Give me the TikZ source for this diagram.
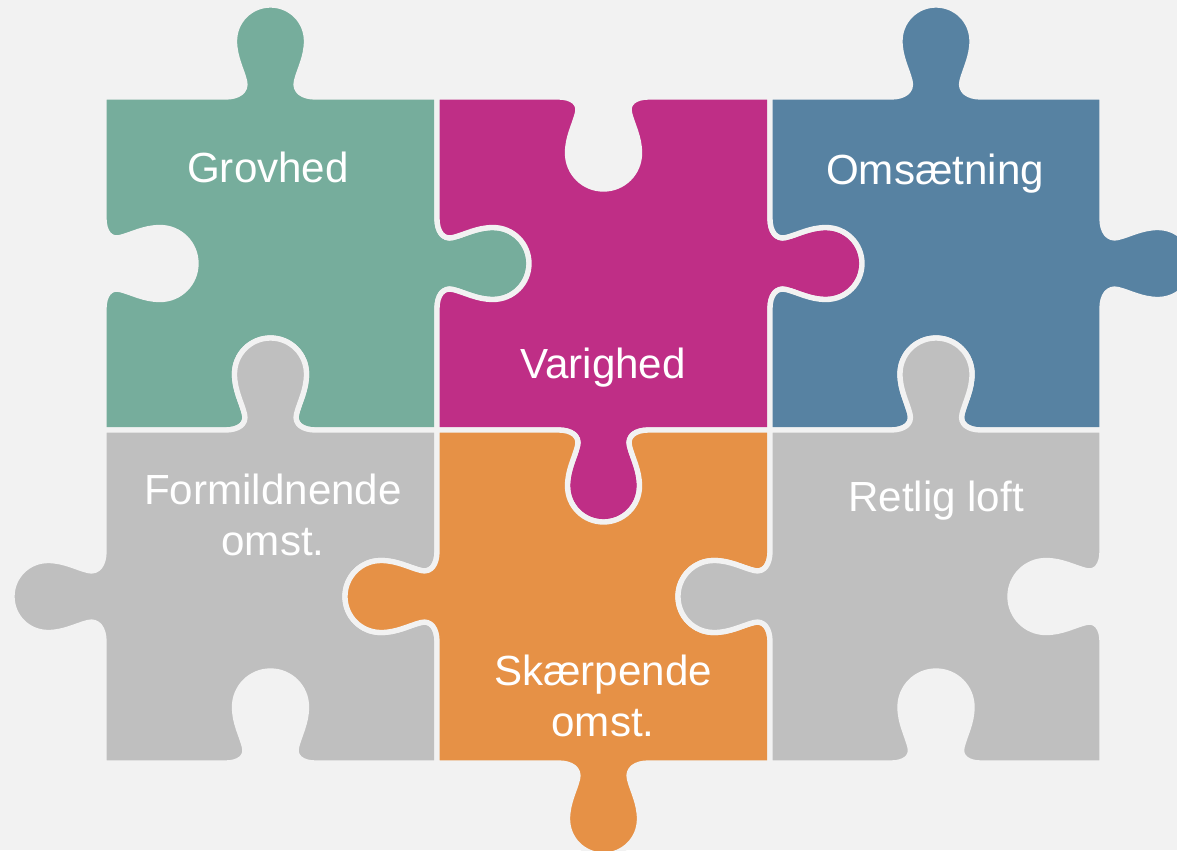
\documentclass[tikz,border=0pt]{standalone}
\usepackage{fontspec}
\setmainfont{Liberation Sans}
\usepackage{tikz}

\definecolor{pzbg}{HTML}{F2F2F2}
\definecolor{pzteal}{HTML}{76AD9C}
\definecolor{pzmagenta}{HTML}{BF2E86}
\definecolor{pzblue}{HTML}{5782A2}
\definecolor{pzorange}{HTML}{E69146}
\definecolor{pzgray}{HTML}{BFBFBF}

% one side tab: #1,#2 middle of the side, #3 angle, #4 = 1 knob out, -1 hole in
\newcommand\pzknob[4]{%
  {[shift={(#1,#2)},rotate=#3,yscale=#4]
   -- (-45,0) .. controls (-32,0) and (-23.5,-6) .. (-26,-16)
   .. controls (-29,-28) and (-36,-40) .. (-36,-56)
   .. controls (-36,-76) and (-20,-92) .. (0,-92)
   .. controls (20,-92) and (36,-76) .. (36,-56)
   .. controls (36,-40) and (29,-28) .. (26,-16)
   .. controls (23.5,-6) and (32,0) .. (45,0)}}

\tikzset{
  piece/.style={draw=pzbg, line width=4pt, line join=round},
  pztext/.style={text=white, inner sep=0pt, align=center, font=\fontsize{31.6}{37.8}\selectfont}
}

\begin{document}
\begin{tikzpicture}[x=0.75pt,y=0.75pt,yscale=-1,xscale=1]
\useasboundingbox (0,0) rectangle (1177,850);
\fill [pzbg] (0,0) rectangle (1177,850);
\clip (0,0) rectangle (1177,850);

%Shape: Puzzle piece top left
\draw [piece, fill=pzteal] (104,97) \pzknob{270.5}{97}{0}{1} -- (437,97) \pzknob{437}{263.5}{90}{1} -- (437,430) \pzknob{270.5}{430}{180}{-1} -- (104,430) \pzknob{104}{263.5}{270}{-1} -- cycle;
%Shape: Puzzle piece top middle
\draw [piece, fill=pzmagenta] (437,97) \pzknob{603.5}{97}{0}{-1} -- (770,97) \pzknob{770}{263.5}{90}{1} -- (770,430) \pzknob{603.5}{430}{180}{1} -- (437,430) \pzknob{437}{263.5}{270}{-1} -- cycle;
%Shape: Puzzle piece top right
\draw [piece, fill=pzblue] (770,97) \pzknob{936}{97}{0}{1} -- (1102,97) \pzknob{1102}{263.5}{90}{1} -- (1102,430) \pzknob{936}{430}{180}{-1} -- (770,430) \pzknob{770}{263.5}{270}{-1} -- cycle;
%Shape: Puzzle piece bottom left
\draw [piece, fill=pzgray] (104,430) \pzknob{270.5}{430}{0}{1} -- (437,430) \pzknob{437}{596.5}{90}{-1} -- (437,763) \pzknob{270.5}{763}{180}{-1} -- (104,763) \pzknob{104}{596.5}{270}{1} -- cycle;
%Shape: Puzzle piece bottom middle
\draw [piece, fill=pzorange] (437,430) \pzknob{603.5}{430}{0}{-1} -- (770,430) \pzknob{770}{596.5}{90}{-1} -- (770,763) \pzknob{603.5}{763}{180}{1} -- (437,763) \pzknob{437}{596.5}{270}{1} -- cycle;
%Shape: Puzzle piece bottom right
\draw [piece, fill=pzgray] (770,430) \pzknob{936}{430}{0}{1} -- (1102,430) \pzknob{1102}{596.5}{90}{-1} -- (1102,763) \pzknob{936}{763}{180}{-1} -- (770,763) \pzknob{770}{596.5}{270}{1} -- cycle;

% Text Node
\node [pztext, anchor=base] (grovhed) at (268,182) {Grovhed};
% Text Node
\node [pztext, anchor=base] (varighed) at (603,378) {Varighed};
% Text Node
\node [pztext, anchor=base] (omsaetning) at (935,184) {Omsætning};
% Text Node
\node [pztext, anchor=north] (formildnende) at (273,474) {Formildnende\\omst.};
% Text Node
\node [pztext, anchor=north] (skaerpende) at (603,655) {Skærpende\\omst.};
% Text Node
\node [pztext, anchor=base] (retligloft) at (936,511) {Retlig loft};

\end{tikzpicture}
\end{document}
